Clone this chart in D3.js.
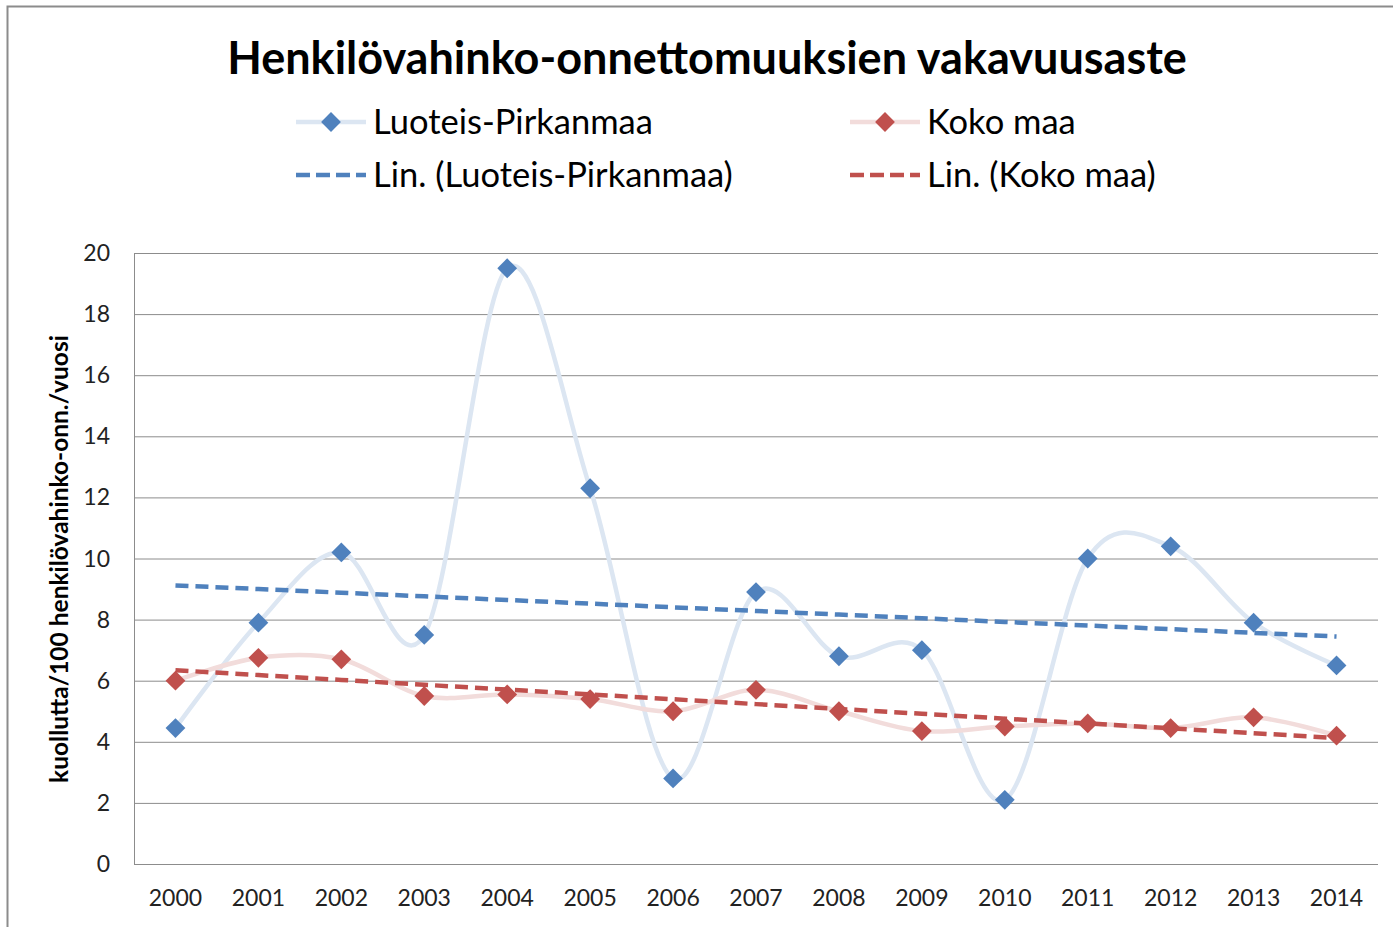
<!DOCTYPE html>
<html>
<head>
<meta charset="utf-8">
<script src="https://cdn.jsdelivr.net/npm/d3@7"></script>
<style>
  body { margin: 0; background: #fff; }
  text { font-family: Lato, "Noto Sans", sans-serif; fill: #222; }
</style>
</head>
<body>
<script>
const years = ['2000', '2001', '2002', '2003', '2004', '2005', '2006', '2007', '2008', '2009', '2010', '2011', '2012', '2013', '2014'];
const luoteis = [4.45, 7.9, 10.2, 7.5, 19.5, 12.3, 2.8, 8.9, 6.8, 7.0, 2.1, 10.0, 10.4, 7.9, 6.5];
const kokoMaa = [6.0, 6.75, 6.7, 5.5, 5.55, 5.4, 5.0, 5.7, 5.0, 4.35, 4.5, 4.6, 4.45, 4.8, 4.2];
const yTicks = [0, 2, 4, 6, 8, 10, 12, 14, 16, 18, 20];
const seriesNames = ['Luoteis-Pirkanmaa', 'Koko maa'];

const W = 1393, H = 927;
const margin = { left: 134, right: 15, top: 253, bottom: 63 };

const svg = d3.select('body')
  .append('svg')
  .attr('width', W)
  .attr('height', H);

// chart frame
svg.append('rect')
  .attr('x', 7.5).attr('y', 6.5)
  .attr('width', W + 20).attr('height', H + 20)
  .attr('fill', 'none')
  .attr('stroke', '#8c8c8c')
  .attr('stroke-width', 2);

const x = d3.scalePoint()
  .domain(years)
  .range([margin.left, W - margin.right])
  .padding(0.5);

const y = d3.scaleLinear()
  .domain([0, 20])
  .range([H - margin.bottom, margin.top]);

// gridlines
svg.append('g')
  .selectAll('line')
  .data(yTicks)
  .join('line')
  .attr('x1', margin.left)
  .attr('x2', W - margin.right)
  .attr('y1', d => y(d) + 0.5)
  .attr('y2', d => y(d) + 0.5)
  .attr('stroke', '#8c8c8c')
  .attr('stroke-width', 1);

svg.append('line')
  .attr('x1', margin.left + 0.5).attr('x2', margin.left + 0.5)
  .attr('y1', y(20)).attr('y2', y(0))
  .attr('stroke', '#8c8c8c');

// y tick labels
svg.append('g')
  .selectAll('text')
  .data(yTicks)
  .join('text')
  .attr('x', 110)
  .attr('y', d => y(d))
  .attr('dy', '0.35em')
  .attr('text-anchor', 'end')
  .style('font-size', '23px')
  .text(d => d);

// x tick labels
svg.append('g')
  .selectAll('text')
  .data(years)
  .join('text')
  .attr('x', d => x(d))
  .attr('y', 898)
  .attr('dy', '0.35em')
  .attr('text-anchor', 'middle')
  .style('font-size', '23px')
  .text(d => d);

// y axis title
svg.append('text')
  .attr('transform', 'translate(68,559) rotate(-90)')
  .attr('text-anchor', 'middle')
  .style('font-size', '24.5px')
  .style('font-weight', 'bold')
  .style('fill', '#000')
  .text('kuollutta/100 henkilövahinko-onn./vuosi');

// linear trend from the data
function trend(values) {
  const n = values.length;
  const xs = d3.range(n);
  const mx = d3.mean(xs), my = d3.mean(values);
  const b = d3.sum(xs, i => (i - mx) * (values[i] - my)) / d3.sum(xs, i => (i - mx) ** 2);
  const a = my - b * mx;
  return xs.map(i => a + b * i);
}

const series = [
  { name: seriesNames[0], values: luoteis, line: '#dce6f2', mark: '#4f81bd' },
  { name: seriesNames[1], values: kokoMaa, line: '#f2dcdb', mark: '#c0504d' }
];

const smooth = d3.line()
  .x((d, i) => x(years[i]))
  .y(d => y(d))
  .curve(d3.curveCatmullRom.alpha(0));

const straight = d3.line()
  .x((d, i) => x(years[i]))
  .y(d => y(d));

const diamond = d3.symbol().type(d3.symbolDiamond2).size(250);

series.forEach(s => {
  svg.append('path')
    .attr('d', smooth(s.values))
    .attr('fill', 'none')
    .attr('stroke', s.line)
    .attr('stroke-width', 4.5);
});

series.forEach(s => {
  svg.append('g')
    .selectAll('path')
    .data(s.values)
    .join('path')
    .attr('transform', (d, i) => `translate(${x(years[i])},${y(d)})`)
    .attr('d', diamond)
    .attr('fill', s.mark);
});

series.forEach(s => {
  svg.append('path')
    .attr('d', straight(trend(s.values)))
    .attr('fill', 'none')
    .attr('stroke', s.mark)
    .attr('stroke-width', 4.5)
    .attr('stroke-dasharray', '13,7');
});

// title
svg.append('text')
  .attr('x', 707)
  .attr('y', 58)
  .attr('dy', '0.35em')
  .attr('text-anchor', 'middle')
  .style('font-size', '45px')
  .style('font-weight', 'bold')
  .style('fill', '#000')
  .text('Henkilövahinko-onnettomuuksien vakavuusaste');

// legend
const legendItems = [
  { x: 296, y: 122, label: seriesNames[0], s: series[0], type: 'series' },
  { x: 850, y: 122, label: seriesNames[1], s: series[1], type: 'series' },
  { x: 296, y: 175, label: 'Lin. (' + seriesNames[0] + ')', s: series[0], type: 'trend' },
  { x: 850, y: 175, label: 'Lin. (' + seriesNames[1] + ')', s: series[1], type: 'trend' }
];

const lg = svg.append('g').selectAll('g')
  .data(legendItems)
  .join('g')
  .attr('transform', d => `translate(${d.x},${d.y})`);

lg.append('line')
  .attr('x1', 0).attr('x2', 70)
  .attr('stroke', d => d.type === 'series' ? d.s.line : d.s.mark)
  .attr('stroke-width', 4.5)
  .attr('stroke-dasharray', d => d.type === 'trend' ? '14,6' : null);

lg.filter(d => d.type === 'series')
  .append('path')
  .attr('transform', 'translate(35,0)')
  .attr('d', diamond)
  .attr('fill', d => d.s.mark);

lg.append('text')
  .attr('x', 77)
  .attr('dy', '0.35em')
  .style('font-size', '34.5px')
  .style('fill', '#000')
  .text(d => d.label);
</script>
</body>
</html>
